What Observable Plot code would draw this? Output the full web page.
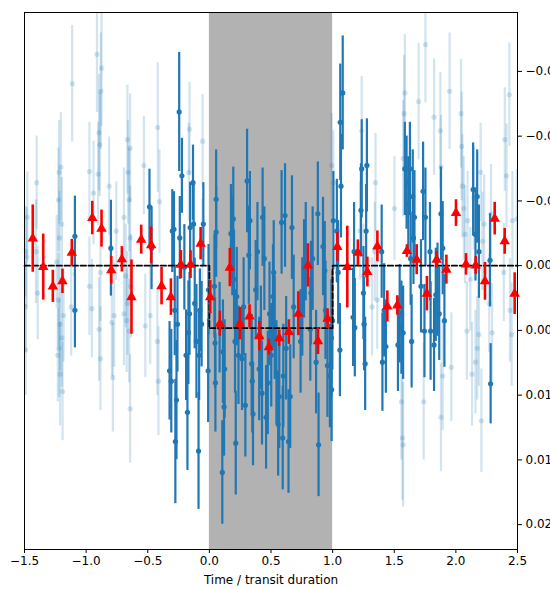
<!DOCTYPE html>
<html><head><meta charset="utf-8">
<script src="https://cdn.jsdelivr.net/npm/d3@7"></script>
<script src="https://cdn.jsdelivr.net/npm/@observablehq/plot@0.6"></script>
<style>html,body{margin:0;padding:0;background:#fff;overflow:hidden;width:550px;height:589px}</style>
</head><body><div id="chart"></div>
<script>
// flux values and errors in units of 1e-3 (relative flux)
const lightPoints = [
[-1.491,-1.08,3.5],[-1.483,-0.68,3.8],[-1.491,3.19,3.5],[-1.491,6.52,3.5],[-1.477,-3.74,3.5],[-1.401,-6.41,3.6],[-1.393,2.12,3.6],[-1.407,-1.08,4.0],
[-1.239,-0.28,3.6],[-1.225,-5.08,4.0],[-1.219,-7.21,4.0],[-1.205,-7.61,4.2],[-1.216,-2.14,3.6],[-1.225,2.65,3.6],[-1.211,4.52,3.6],[-1.197,5.58,3.8],
[-1.219,6.38,3.8],[-1.211,8.38,4.0],[-1.191,9.72,3.8],[-1.183,3.85,3.6],[-1.230,6.92,3.6],[-1.197,-3.21,3.6],[-1.113,-14.05,4.5],[-1.121,3.19,3.8],
[-0.973,1.59,3.8],[-0.953,3.32,3.8],[-0.973,-7.27,3.8],[-0.940,-5.61,4.0],[-0.912,-16.32,4.5],[-0.895,-10.27,4.5],[-0.875,-15.25,4.5],[-0.881,-13.47,4.5],
[-0.903,-7.07,4.0],[-0.889,-9.34,4.0],[-0.884,0.52,3.8],[-0.895,4.92,4.0],[-0.884,7.18,4.0],[-0.813,-6.14,3.8],[-0.791,4.39,4.2],[-0.783,8.65,4.2],
[-0.772,3.85,4.0],[-0.755,-2.67,3.8],[-0.693,-3.74,3.8],[-0.665,-9.74,4.2],[-0.643,-9.07,4.2],[-0.660,-7.21,4.0],[-0.651,-5.08,4.0],[-0.643,-2.14,4.0],
[-0.679,0.79,4.0],[-0.693,3.72,4.0],[-0.671,4.25,4.0],[-0.651,5.05,4.0],[-0.665,2.92,4.0],[-0.643,11.05,4.2],[-0.637,1.59,4.0],[-0.531,-7.74,3.8],
[-0.520,4.65,4.0],[-0.480,3.85,3.8],[-0.419,-10.67,5.0],[-0.422,5.85,4.2],[-0.413,8.92,4.2],[-0.405,-4.94,4.0],[-0.161,-10.54,3.6],[-0.167,-7.21,3.8],
[-0.055,-9.61,3.6],[-0.057,-1.35,3.8],
[0.992,-7.74,4.0],[1.006,-6.41,4.0],[1.236,-10.41,4.2],[1.222,-2.67,3.8],[1.250,0.79,4.0],[1.348,-6.41,3.8],[1.342,-1.08,3.8],[1.320,3.19,3.8],
[1.362,2.65,3.8],[1.502,-4.41,4.0],[1.572,-8.27,4.5],[1.586,-13.34,4.5],[1.558,10.51,4.5],[1.566,13.31,4.8],[1.572,13.84,4.8],[1.580,-11.74,4.5],
[1.698,-12.67,4.5],[1.739,10.51,4.5],[1.753,-17.07,4.5],[1.823,-11.47,4.5],[1.874,-10.41,4.5],[1.879,-7.61,4.0],[1.879,11.71,4.2],[1.893,8.52,4.2],
[1.949,-13.47,4.5],[1.963,7.85,4.2],[2.042,-11.74,4.2],[2.047,-9.21,4.2],[2.053,-6.14,4.0],[2.064,-4.41,4.0],[2.075,-2.41,3.8],[2.089,5.05,3.8],
[2.095,-3.47,3.8],[2.117,1.05,4.0],[2.131,8.38,4.0],[2.145,-5.21,4.0],[2.159,7.45,4.0],[2.173,6.38,4.0],[2.187,5.32,4.0],[2.207,11.98,4.0],
[2.215,-1.88,3.8],[2.229,-3.21,3.8],[2.201,-7.21,3.8],[2.285,-4.01,3.8],[2.294,5.18,3.8],[2.271,2.92,3.8],[2.397,-9.74,4.0],[2.411,-6.94,4.0],
[2.434,-13.20,4.0],[2.439,3.45,4.0],[2.453,5.32,4.0],[2.459,-3.47,3.8],[2.495,-3.61,3.8],[2.389,0.52,3.8]
];

const darkPoints = [
[-1.091,-2.27,3.1],[-1.091,3.45,2.9],[-0.799,-1.35,3.7],[-0.486,-4.55,2.9],[-0.469,-1.35,3.2],
[-0.323,8.12,3.8],[-0.309,8.92,4.0],[-0.301,-2.67,3.2],[-0.287,-2.81,2.9],[-0.281,3.45,3.5],[-0.276,13.58,4.8],[-0.267,10.38,4.6],
[-0.259,4.52,3.7],[-0.245,-11.87,4.6],[-0.223,-6.94,2.9],[-0.240,-2.14,3.2],[-0.203,0.13,3.3],[-0.189,6.92,3.5],[-0.178,11.32,4.5],
[-0.170,5.18,4.0],[-0.161,3.72,3.2],[-0.156,-2.94,3.5],[-0.133,-6.41,2.9],[-0.128,-3.21,3.2],[-0.119,2.92,3.5],[-0.105,5.85,4.4],
[-0.088,14.32,4.5],[-0.083,6.92,3.5],[-0.077,3.45,3.2],[-0.063,4.52,3.3],[-0.049,-3.21,3.2],[-0.010,8.12,4.0],[-0.007,1.86,3.5],
[0.055,-5.13,3.8],[0.055,-2.60,3.5],[0.049,9.05,3.8],[0.041,1.59,4.0],[0.046,5.98,3.5],[0.105,15.97,4.0],[0.110,6.65,4.0],[0.119,10.91,3.8],
[0.124,7.98,3.8],[0.083,4.79,3.5],[0.175,-2.47,3.8],[0.194,-3.61,4.0],[0.186,-1.48,3.8],[0.200,1.05,3.8],[0.208,5.85,4.0],[0.214,13.71,4.0],
[0.236,6.92,3.8],[0.222,2.39,3.8],[0.265,7.18,4.0],[0.278,3.19,3.8],[0.292,10.78,4.0],[0.306,-6.54,4.0],[0.320,-0.81,3.8],[0.329,-3.47,3.8],
[0.348,8.92,4.0],[0.354,11.45,4.0],[0.343,7.58,3.8],[0.376,1.86,3.8],[0.390,-1.08,3.8],[0.404,7.98,4.0],[0.418,5.58,4.0],[0.427,9.85,4.0],
[0.446,-0.54,4.0],[0.432,-3.74,3.8],[0.460,11.71,4.0],[0.474,9.05,4.0],[0.488,3.72,4.0],[0.502,6.92,4.0],[0.516,2.39,4.0],[0.522,0.52,4.0],
[0.530,4.79,4.0],[0.544,8.25,4.0],[0.558,12.25,4.0],[0.567,10.11,4.0],[0.586,-3.34,4.0],[0.595,13.31,4.0],[0.600,8.52,4.0],[0.614,-3.87,4.0],
[0.623,6.38,4.0],[0.642,13.58,4.0],[0.656,10.11,4.0],[0.670,-2.94,4.0],[0.684,3.19,4.0],[0.740,5.85,4.0],[0.754,3.19,3.8],[0.768,0.25,3.8],
[0.782,-1.08,3.8],[0.819,4.92,4.0],[0.824,2.12,4.0],[0.838,-0.54,4.0],[0.866,7.45,4.0],[0.880,-4.01,4.0],[0.886,13.84,4.0],[0.922,-1.48,3.8],
[0.936,0.39,3.8],[0.942,3.45,3.8],[0.958,7.72,4.0],[0.978,8.52,4.0],[0.992,9.58,4.0],[1.006,-3.47,3.8],[0.998,4.25,3.8],
[0.990,5.58,4.5],[1.062,-11.07,4.5],[1.082,-13.34,4.4],[1.068,-6.14,4.0],[1.059,6.52,3.6],[1.045,0.52,4.0],[1.034,-2.67,4.0],
[1.166,3.99,3.8],[1.180,4.79,3.8],[1.174,-1.08,3.8],[1.230,-4.27,3.6],[1.236,-7.47,3.8],[1.250,2.12,3.6],[1.264,7.58,3.6],[1.255,4.52,3.6],
[1.272,-2.67,3.6],[1.278,-7.74,3.6],[1.398,-1.08,3.6],[1.404,7.45,3.8],[1.418,3.45,3.6],[1.432,6.25,3.6],[1.530,6.12,3.6],[1.544,3.72,3.8],
[1.558,4.79,3.6],[1.572,5.18,3.6],[1.586,-7.47,3.6],[1.600,-6.41,3.6],[1.614,-4.81,3.6],[1.627,-7.47,3.6],[1.633,-0.54,3.6],[1.641,5.85,3.6],
[1.650,-5.34,3.6],[1.656,-2.14,3.6],[1.664,-3.74,3.6],[1.717,1.59,3.6],[1.734,-5.74,3.8],[1.745,5.05,3.6],[1.753,-3.74,3.8],[1.795,5.05,3.8],
[1.790,-1.08,3.8],[1.823,6.12,3.6],[1.837,2.25,3.6],[1.851,1.86,3.6],[1.865,3.72,3.6],[1.879,-4.01,3.6],[1.893,-1.35,3.6],[1.907,4.25,3.6],
[2.140,-5.88,3.6],[2.159,-2.41,3.6],[2.173,-5.34,3.6],[2.187,-1.08,3.6],[2.277,-0.41,3.6],[2.282,9.12,3.1]
];

const binnedPoints = [
[-1.433,-2.09,2.60],[-1.348,0.11,2.55],[-1.270,1.60,1.24],[-1.192,1.21,0.94],[-1.116,-1.00,1.03],[-0.950,-3.68,1.29],[-0.875,-2.86,1.43],
[-0.796,0.36,1.07],[-0.710,-0.49,0.98],[-0.632,2.43,2.87],[-0.553,-2.01,1.12],[-0.472,-1.57,1.42],[-0.388,1.58,1.45],[-0.312,2.43,1.41],
[-0.231,-0.08,1.09],[-0.153,-0.08,1.07],[-0.071,-1.70,1.25],[0.007,2.43,1.29],[0.085,4.48,0.97],[0.166,0.15,1.48],[0.248,4.48,1.25],
[0.326,3.92,0.90],[0.405,5.44,1.13],[0.483,6.29,0.61],[0.567,5.60,0.63],[0.645,5.13,0.95],[0.722,3.71,1.70],[0.800,-0.02,1.67],
[0.881,5.83,1.03],[0.959,4.10,0.77],[1.038,-1.44,1.11],[1.119,0.11,3.16],[1.205,-1.00,0.99],[1.282,0.49,1.15],[1.363,-1.49,1.19],
[1.444,3.15,1.20],[1.525,3.07,0.75],[1.603,-1.13,0.49],[1.682,-0.46,1.16],[1.765,2.16,1.33],[1.844,-0.46,0.65],[1.923,0.31,1.12],
[2.001,-4.06,1.03],[2.082,-0.10,0.83],[2.161,-0.02,0.68],[2.236,1.21,1.46],[2.315,-3.63,1.26],[2.396,-1.88,1.00],[2.477,2.16,1.61]
];

const modelTime = [-1.5, 0, 0, 1, 1, 2.5];
const modelFlux = [0, 0, 4.82, 4.82, 0, 0];
const transitWindow = [0, 1];
const xTicks = [-1.5, -1.0, -0.5, 0.0, 0.5, 1.0, 1.5, 2.0, 2.5];
const yTicks = [-0.015, -0.010, -0.005, 0.000, 0.005, 0.010, 0.015, 0.020];
const xLabel = "Time / transit duration";

const toRows = arr => arr.map(([t, f, e]) => ({t, f: f * 1e-3, e: e * 1e-3}));
const light = toRows(lightPoints);
const dark = toRows(darkPoints);
const binned = toRows(binnedPoints);
const model = modelTime.map((t, i) => ({t, f: modelFlux[i] * 1e-3}));
const band = [{start: transitWindow[0], end: transitWindow[1]}];
const blue = "#1f77b4";

const chart = Plot.plot({
  width: 550, height: 589,
  marginLeft: 24, marginRight: 33, marginTop: 12, marginBottom: 40,
  style: {fontFamily: "'DejaVu Sans', sans-serif", fontSize: "12px", background: "white", color: "black"},
  x: {domain: [-1.5, 2.5]},
  y: {domain: [-0.01955, 0.02192], reverse: true},
  marks: [
    Plot.rect(band, {x1: "start", x2: "end", fill: "#b2b2b2"}),
    Plot.ruleX(light, {x: "t", y1: d => d.f - d.e, y2: d => d.f + d.e, stroke: blue, strokeOpacity: 0.2, strokeWidth: 2.2, clip: true}),
    Plot.dot(light, {x: "t", y: "f", r: 2.6, fill: blue, fillOpacity: 0.2, clip: true}),
    Plot.ruleX(dark, {x: "t", y1: d => d.f - d.e, y2: d => d.f + d.e, stroke: blue, strokeWidth: 2.2, clip: true}),
    Plot.dot(dark, {x: "t", y: "f", r: 2.6, fill: blue, clip: true}),
    Plot.line(model, {x: "t", y: "f", stroke: "black", strokeWidth: 1.8, strokeDasharray: "5.5,2.5"}),
    Plot.ruleX(binned, {x: "t", y1: d => d.f - d.e, y2: d => d.f + d.e, stroke: "red", strokeWidth: 2.6}),
    Plot.dot(binned, {x: "t", y: "f", symbol: "triangle", r: 3.9, fill: "red"}),
    Plot.frame({stroke: "black"}),
    Plot.axisX({ticks: xTicks, tickFormat: d3.format(".1f"), tickSize: 4, tickPadding: 3, label: null, fontSize: 12}),
    Plot.axisY({anchor: "right", ticks: yTicks, tickFormat: d3.format(".3f"), tickSize: 4, tickPadding: 4, label: null, fontSize: 12}),
    Plot.text([xLabel], {frameAnchor: "bottom", dy: 31, text: d => d, fontSize: 12, lineAnchor: "middle"})
  ]
});
document.getElementById("chart").appendChild(chart);
</script>
</body></html>
